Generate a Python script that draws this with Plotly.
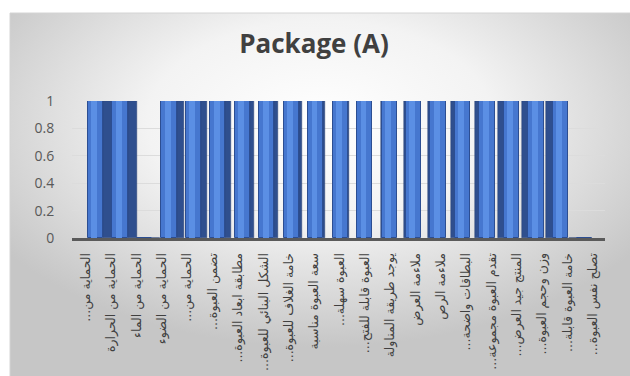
import base64
import plotly.graph_objects as go

categories = [
    "الحماية من...",
    "الحماية من الحرارة",
    "الحماية من الماء",
    "الحماية من الضوء",
    "الحماية من...",
    "تضمن العبوة...",
    "مطابقة ابعاد العبوة...",
    "الشكل البنائي للعبوة...",
    "خامة الغلاف للعبوة...",
    "سعة العبوة مناسبة",
    "العبوة سهلة...",
    "العبوة قابلة للفتح...",
    "يوجد طريقة المناولة",
    "ملاءمة العرض",
    "ملاءمة الرص",
    "البطاقات واضحة...",
    "تقدم العبوة مجموعة...",
    "المنتج جيد العرض...",
    "وزن وحجم العبوة...",
    "خامة العبوة قابلة...",
    "تصلح نفس العبوة...",
]
values = [1, 1, 0, 1, 1, 1, 1, 1, 1, 1, 1, 1, 1, 1, 1, 1, 1, 1, 1, 1, 0]
y_tick_vals = [0, 0.2, 0.4, 0.6, 0.8, 1]
y_tick_text = ["0", "0.2", "0.4", "0.6", "0.8", "1"]
title_text = "Package (A)"

W, H = 630, 376
ML, MR, MT, MB = 72, 25, 101, 138
PW = W - ML - MR
PH = H - MT - MB

idx = list(range(len(categories)))
# right-to-left mark keeps trailing dots on the left side of Arabic text
tick_text = ["\u200f" + c + "\u200f" for c in categories]

bar_scale = 24.47
bar_r0 = -(95.5 - ML) / bar_scale
bar_r1 = bar_r0 + PW / bar_scale
lab_scale = 25.35
lab_r0 = -(86 - ML) / lab_scale
lab_r1 = lab_r0 + PW / lab_scale

front_w = 0.62
vp = 11.0
side_off, side_w = [], []
for i in idx:
    sw = 0.037 * abs(i - vp)
    side_w.append(max(sw, 0.001))
    if i < vp:
        side_off.append(front_w / 2)
    else:
        side_off.append(-front_w / 2 - sw)

fig = go.Figure()
fig.add_trace(go.Bar(
    x=idx, y=values, offset=side_off, width=side_w,
    marker=dict(color="#2f4f8e", line=dict(color="#263f73", width=0.5)),
    hoverinfo="skip", showlegend=False,
))
fig.add_trace(go.Bar(
    x=idx, y=values, offset=-front_w / 2, width=front_w,
    marker=dict(color="#4677cf", line=dict(color="#2c4e92", width=1)),
    showlegend=False,
))
fig.add_trace(go.Bar(
    x=idx, y=values, offset=-0.17, width=0.24,
    marker=dict(color="#5b8fe4", line=dict(width=0)),
    hoverinfo="skip", showlegend=False,
))
fig.add_trace(go.Scatter(
    x=idx, y=values, xaxis="x2", yaxis="y", mode="markers",
    marker=dict(opacity=0), hoverinfo="skip", showlegend=False,
))

svg = (
    '<svg xmlns="http://www.w3.org/2000/svg" width="620" height="363" '
    'preserveAspectRatio="none" viewBox="0 0 620 363">'
    '<defs><radialGradient id="g" cx="0.5" cy="0.3" r="0.62">'
    '<stop offset="0" stop-color="#ffffff"/>'
    '<stop offset="0.45" stop-color="#f3f3f3"/>'
    '<stop offset="1" stop-color="#c6c6c6"/>'
    '</radialGradient></defs>'
    '<rect x="0" y="0" width="620" height="363" fill="url(#g)"/>'
    '</svg>'
)
src = "data:image/svg+xml;base64," + base64.b64encode(svg.encode()).decode()

bx0, by0 = 10, 13
img_x = (bx0 - ML) / PW
img_y = (H - MB - by0) / PH
img_sx = (W - bx0) / PW
img_sy = (H - by0) / PH

fig.update_layout(
    width=W, height=H,
    margin=dict(l=ML, r=MR, t=MT, b=MB, pad=0, autoexpand=False),
    paper_bgcolor="white",
    plot_bgcolor="rgba(0,0,0,0)",
    barmode="overlay",
    bargap=0,
    title=dict(
        text="<b>" + title_text + "</b>",
        x=314 / W, xanchor="center", xref="container",
        y=1 - 44 / H, yanchor="middle", yref="container",
        font=dict(family="Open Sans", size=26, color="#404040"),
    ),
    images=[dict(
        source=src, xref="paper", yref="paper",
        x=img_x, y=img_y, sizex=img_sx, sizey=img_sy,
        xanchor="left", yanchor="top", sizing="stretch", layer="below",
    )],
    shapes=[dict(
        type="rect", xref="paper", yref="paper",
        x0=img_x, x1=img_x + img_sx + 0.01, y0=img_y - img_sy - 0.01, y1=img_y,
        line=dict(color="#d4d4d4", width=1), fillcolor="rgba(0,0,0,0)", layer="below",
    )],
    xaxis=dict(
        range=[bar_r0, bar_r1], showticklabels=False, showgrid=False,
        zeroline=False, showline=True, linecolor="#5a5a5a", linewidth=3,
        ticks="", automargin=False,
    ),
    xaxis2=dict(
        range=[lab_r0, lab_r1], overlaying="x", anchor="y", side="bottom",
        tickmode="array", tickvals=idx, ticktext=tick_text, tickangle=-90,
        tickfont=dict(family="DejaVu Sans", size=12.5, color="#404040"),
        ticks="outside", ticklen=9, tickcolor="rgba(0,0,0,0)",
        showgrid=False, zeroline=False, showline=False, automargin=False,
    ),
    yaxis=dict(
        range=[0, 1], tickmode="array", tickvals=y_tick_vals, ticktext=y_tick_text,
        tickfont=dict(family="Open Sans", size=14, color="#595959"),
        showgrid=True, gridcolor="#dcdcdc", gridwidth=1,
        zeroline=False, showline=False, automargin=False,
        ticks="outside", ticklen=14, tickcolor="rgba(0,0,0,0)",
    ),
)

fig.write_html("out.html")
